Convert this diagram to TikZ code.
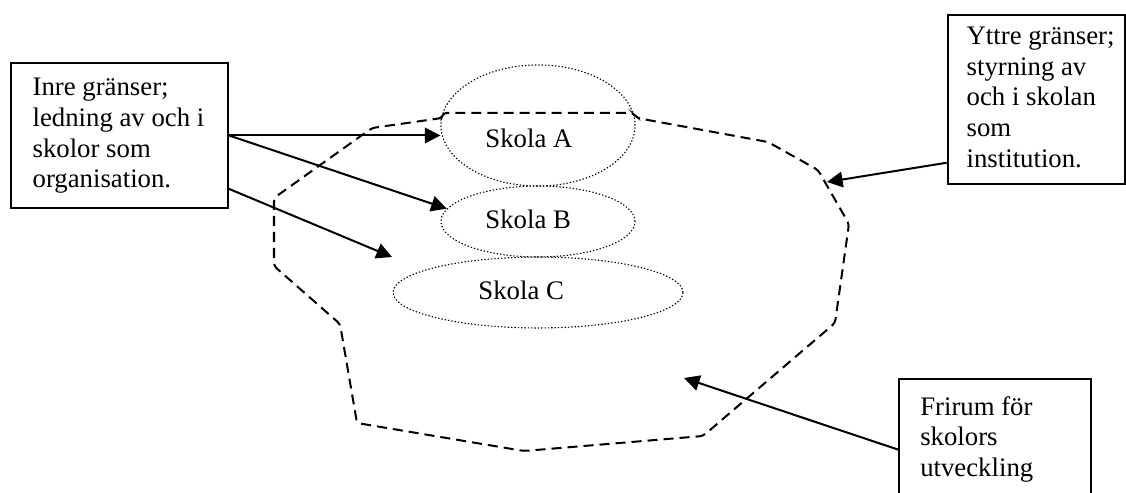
\documentclass[tikz,border=0pt]{standalone}
\usepackage{fontspec}
\setmainfont{Liberation Serif}
\usetikzlibrary{shapes.geometric,arrows.meta}
\begin{document}
\begin{tikzpicture}[x = 0.4484pt, y = -0.4484pt]
    \tikzstyle{every node} = [font = \fontsize{12}{13.8}\selectfont];
    \tikzstyle{box} = [draw, line width = .9pt, anchor = north west];
    \tikzstyle{school} = [draw, ellipse, line width = .5pt, dash pattern = on .6pt off .9pt, inner sep = 0pt];
    \tikzstyle{namn} = [anchor = base west, inner sep = 0pt];
    \tikzstyle{pil} = [line width = .9pt, -{Triangle[length = 7pt, width = 7pt]}];
    \tikzstyle{grans} = [line width = .9pt, dash pattern = on 4.5pt off 2.7pt, rounded corners = 1.5pt];
    \useasboundingbox (0,0) rectangle (1126,493);
    % boxes:
    \node[box, inner xsep = 9.7pt, minimum height = 65pt] (inre) at (10,62)
      {\makebox[77.9pt][l]{\begin{tabular}{@{}l@{}}Inre gränser;\\ ledning av och i\\ skolor som\\ organisation.\end{tabular}}};
    \node[box, inner xsep = 8.5pt, minimum height = 75.6pt] (yttre) at (946.7,14.3)
      {\makebox[62.5pt][l]{\begin{tabular}{@{}l@{}}Yttre gränser;\\ styrning av\\ och i skolan\\ som\\ institution.\end{tabular}}};
    \node[box, inner xsep = 9.4pt, inner ysep = 6.4pt] (frirum) at (898.3,378.3)
      {\makebox[67.2pt][l]{\begin{tabular}{@{}l@{}}Frirum för\\ skolors\\ utveckling\end{tabular}}};
    % schools:
    \node[school, minimum width = 87pt, minimum height = 54.3pt] (skolaA) at (538,125.5){};
    \node[school, minimum width = 87pt, minimum height = 31.8pt] (skolaB) at (538,221.5){};
    \node[school, minimum width = 130pt, minimum height = 31.8pt] (skolaC) at (538,292.5){};
    \node[namn] (namnA) at (485,147.3){Skola A};
    \node[namn] (namnB) at (485,228.3){Skola B};
    \node[namn] (namnC) at (478,299.3){Skola C};
    % outer border:
    \draw[grans] (442,118) -- (443,113) -- (633,113) -- (637,118) -- (768,142) -- (818,170)
      -- (849,224) -- (835,323) -- (703,436) -- (524,451) -- (357,423) -- (340,324)
      -- (274,266) -- (274,198) -- (372,128) -- cycle;
    % arrows:
    \coordinate (pilC) at (392,257);
    \coordinate (pilY) at (827,182);
    \coordinate (pilF) at (684,378);
    \draw[pil] (inre.east) -- (inre.east -| skolaA.west);
    \draw[pil] (inre.east) -- (skolaB.172);
    \draw[pil] ([yshift = 9pt]inre.south east) -- (pilC);
    \draw[pil] ([yshift = 10pt]yttre.south west) -- (pilY);
    \draw[pil] ([yshift = -32pt]frirum.north west) -- (pilF);
  \end{tikzpicture}
\end{document}
